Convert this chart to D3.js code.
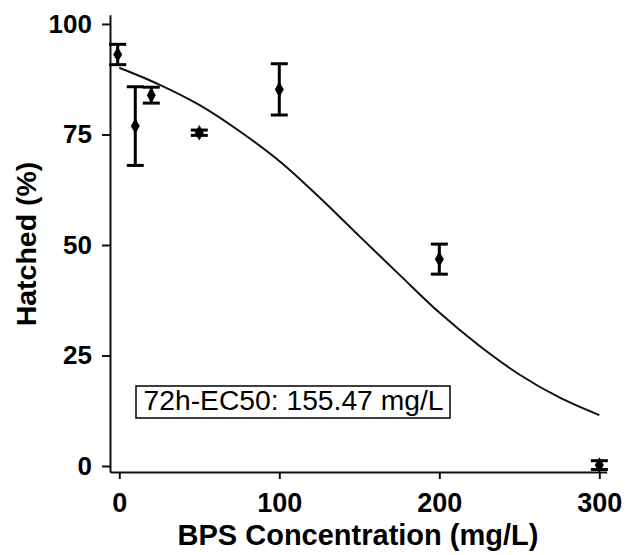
<!DOCTYPE html>
<html>
<head>
<meta charset="utf-8">
<script src="https://cdn.jsdelivr.net/npm/d3@7"></script>
<style>
  body { margin: 0; background: #fff; }
  svg { display: block; font-family: Arial, "Liberation Sans", sans-serif; }
</style>
</head>
<body>
<svg id="chart" width="635" height="555"></svg>
<script>
// Measured means and error (sd) per concentration
var conc = [-1, 10, 20, 50, 100, 200, 300];
var hatched = [93.1, 76.9, 83.9, 75.4, 85.2, 46.8, 0.2];
var errSd = [2.3, 8.9, 1.8, 0.6, 5.8, 3.4, 1.0];

// Fitted curve
var fitX = [0, 25, 50, 75, 100, 125, 150, 175, 200, 225, 250, 275, 300];
var fitY = [90.1, 86.3, 81.7, 75.8, 69.0, 60.8, 52.0, 43.3, 34.7, 27.2, 20.7, 15.5, 11.5];

var xTicks = [0, 100, 200, 300];
var yTicks = [0, 25, 50, 75, 100];
var ecLabel = "72h-EC50: 155.47 mg/L";

var svg = d3.select("#chart");

// Scales (axis lines run a little past the data range)
var x = d3.scaleLinear()
    .domain([-5.8, 304.6])
    .range([110, 606.7]);

var y = d3.scaleLinear()
    .domain([-1.36, 102.1])
    .range([472, 14.7]);

// Y axis
var yAxis = svg.append("g")
    .attr("transform", "translate(110,0)")
    .call(d3.axisLeft(y).tickValues(yTicks).tickSize(8).tickSizeOuter(0).tickPadding(10));

// X axis
var xAxis = svg.append("g")
    .attr("transform", "translate(0,472)")
    .call(d3.axisBottom(x).tickValues(xTicks).tickSize(7).tickSizeOuter(0));

svg.selectAll(".domain")
    .attr("stroke", "#111")
    .attr("stroke-width", 2);

svg.selectAll(".tick line")
    .attr("stroke", "#111")
    .attr("stroke-width", 2);

yAxis.selectAll(".tick text")
    .attr("font-size", 26)
    .attr("font-weight", "bold")
    .attr("fill", "#000")
    .attr("font-family", "Arial, 'Liberation Sans', sans-serif");

xAxis.selectAll(".tick text")
    .attr("font-size", 27)
    .attr("font-weight", "bold")
    .attr("fill", "#000")
    .attr("font-family", "Arial, 'Liberation Sans', sans-serif")
    .attr("y", 39.7)
    .attr("dy", null);

// Axis titles
svg.append("text")
    .attr("x", 358)
    .attr("y", 545)
    .attr("text-anchor", "middle")
    .attr("font-size", 29)
    .attr("font-weight", "bold")
    .attr("fill", "#000")
    .text("BPS Concentration (mg/L)");

svg.append("text")
    .attr("transform", "translate(36,244) rotate(-90)")
    .attr("text-anchor", "middle")
    .attr("font-size", 28.5)
    .attr("font-weight", "bold")
    .attr("fill", "#000")
    .text("Hatched (%)");

// Fitted curve
var fitData = fitX.map(function(d, i) { return [d, fitY[i]]; });

var line = d3.line()
    .x(function(d) { return x(d[0]); })
    .y(function(d) { return y(d[1]); })
    .curve(d3.curveCatmullRom.alpha(0.5));

svg.append("path")
    .datum(fitData)
    .attr("d", line)
    .attr("fill", "none")
    .attr("stroke", "#111")
    .attr("stroke-width", 2);

// Error bars
var points = conc.map(function(d, i) {
    return { x: d, y: hatched[i], sd: errSd[i] };
});

var bars = svg.append("g")
    .selectAll("g")
    .data(points)
    .enter()
    .append("g");

bars.append("line")
    .attr("x1", function(d) { return x(d.x); })
    .attr("x2", function(d) { return x(d.x); })
    .attr("y1", function(d) { return y(d.y - d.sd); })
    .attr("y2", function(d) { return y(d.y + d.sd); })
    .attr("stroke", "#000")
    .attr("stroke-width", 3);

bars.append("line")
    .attr("x1", function(d) { return x(d.x) - 8.5; })
    .attr("x2", function(d) { return x(d.x) + 8.5; })
    .attr("y1", function(d) { return y(d.y + d.sd); })
    .attr("y2", function(d) { return y(d.y + d.sd); })
    .attr("stroke", "#000")
    .attr("stroke-width", 3);

bars.append("line")
    .attr("x1", function(d) { return x(d.x) - 8.5; })
    .attr("x2", function(d) { return x(d.x) + 8.5; })
    .attr("y1", function(d) { return y(d.y - d.sd); })
    .attr("y2", function(d) { return y(d.y - d.sd); })
    .attr("stroke", "#000")
    .attr("stroke-width", 3);

bars.append("path")
    .attr("transform", function(d) { return "translate(" + x(d.x) + "," + y(d.y) + ")"; })
    .attr("d", d3.symbol().type(d3.symbolDiamond).size(70))
    .attr("fill", "#000");

// EC50 label box
svg.append("rect")
    .attr("x", 136)
    .attr("y", 386)
    .attr("width", 314)
    .attr("height", 32)
    .attr("fill", "#fff")
    .attr("stroke", "#000")
    .attr("stroke-width", 1.5);

svg.append("text")
    .attr("x", 143.5)
    .attr("y", 410)
    .attr("font-size", 27)
    .attr("fill", "#000")
    .attr("textLength", 300)
    .attr("lengthAdjust", "spacingAndGlyphs")
    .text(ecLabel);
</script>
</body>
</html>
